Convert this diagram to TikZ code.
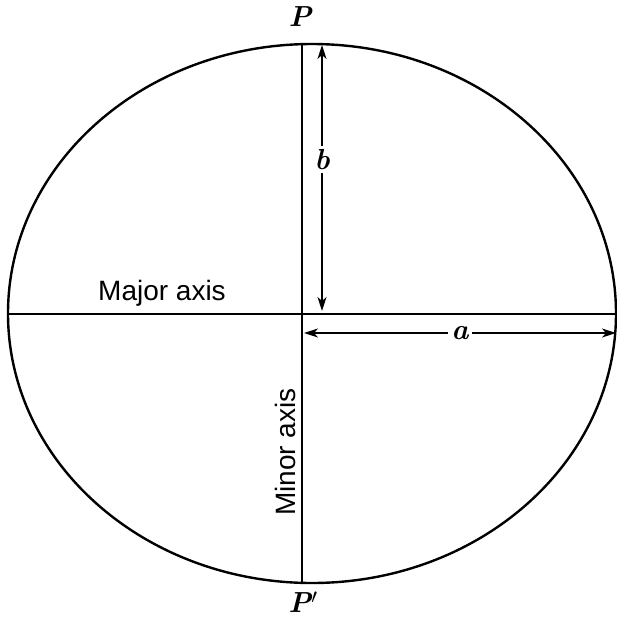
\documentclass[tikz,border=0pt]{standalone}
\usepackage{fontspec}
\setsansfont{Liberation Sans}
\usetikzlibrary{arrows.meta,positioning,calc}

\begin{document}
\begin{tikzpicture}[x=1pt, y=-1pt,
  axis/.style={line width=2.4pt},
  dim/.style={{Stealth[length=14pt,width=9pt,inset=4pt]}-{Stealth[length=14pt,width=9pt,inset=4pt]}, line width=1.4pt},
  pt/.style={font=\fontsize{29}{32}\selectfont\bfseries\itshape},
  dimlbl/.style={fill=white, inner sep=3pt, font=\fontsize{29}{32}\selectfont\bfseries\itshape},
  axlbl/.style={font=\sffamily\fontsize{28}{32}\selectfont}
]
\useasboundingbox (0,0) rectangle (617,619);

\coordinate (top) at (302,44);
\coordinate (bot) at (302,583);
\coordinate (lft) at (7,314);
\coordinate (rgt) at (617,314);
\coordinate (ctr) at (302,314);

\draw[axis] (312,313.5) ellipse [x radius=304, y radius=269.5];
\draw[axis] (lft) -- (rgt);
\draw[axis] (top) -- (bot);

\node[pt] (P) at (300,17) {P};
\node[pt] (Pp) at (303,602) {P$'$};

\coordinate (btop) at (322,45);
\coordinate (bbot) at (322,311);
\draw[dim] (bbot) -- node[dimlbl, pos=0.57] (blbl) {b} (btop);

\coordinate (aleft) at (304,333);
\coordinate (aright) at (616,333);
\draw[dim] (aleft) -- node[dimlbl, pos=0.5] (albl) {a} (aright);

\node[axlbl] (major) at (162,293) {Major axis};
\node[axlbl, rotate=90] (minor) at (285,452) {Minor axis};

\end{tikzpicture}
\end{document}
